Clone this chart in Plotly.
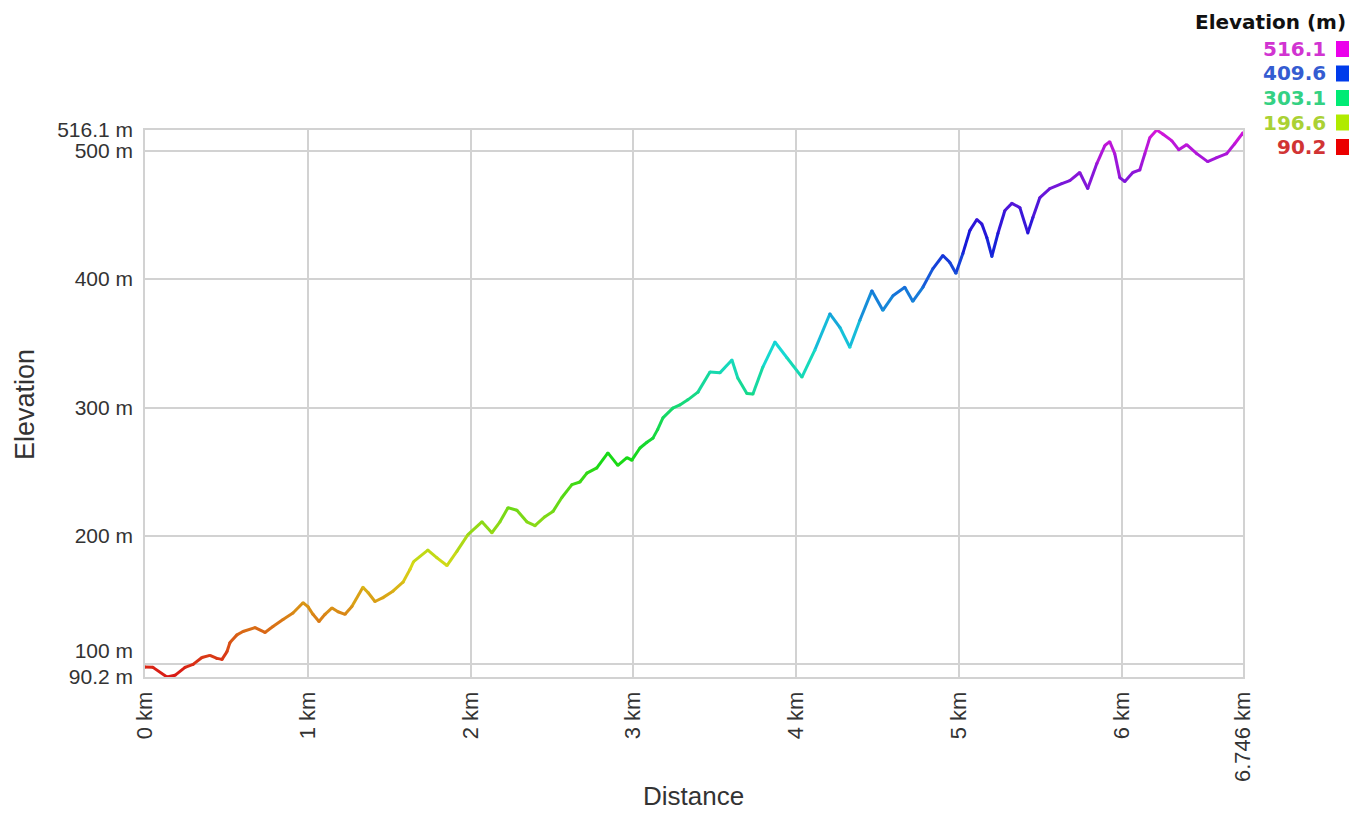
import colorsys
import plotly.graph_objects as go

# ---------------- data ----------------
distance_km = [0.000, 0.049, 0.135, 0.184, 0.246, 0.295, 0.350, 0.399, 0.442, 0.473,
               0.504, 0.522, 0.565, 0.602, 0.676, 0.737, 0.786, 0.848, 0.909, 0.971,
               1.001, 1.032, 1.069, 1.106, 1.149, 1.186, 1.229, 1.271, 1.339, 1.370,
               1.413, 1.462, 1.523, 1.585, 1.628, 1.650, 1.738, 1.794, 1.855, 1.916,
               1.984, 2.070, 2.131, 2.181, 2.230, 2.285, 2.346, 2.396, 2.457, 2.506,
               2.561, 2.623, 2.672, 2.715, 2.776, 2.844, 2.905, 2.961, 2.991, 3.041,
               3.084, 3.120, 3.150, 3.182, 3.243, 3.286, 3.335, 3.397, 3.471, 3.532,
               3.606, 3.642, 3.698, 3.735, 3.796, 3.870, 3.943, 4.036, 4.115, 4.208,
               4.269, 4.330, 4.392, 4.466, 4.533, 4.595, 4.668, 4.717, 4.779, 4.840,
               4.902, 4.945, 4.982, 5.025, 5.068, 5.111, 5.141, 5.172, 5.203, 5.240,
               5.283, 5.326, 5.375, 5.424, 5.455, 5.498, 5.559, 5.633, 5.682, 5.743,
               5.792, 5.848, 5.897, 5.927, 5.958, 5.989, 6.020, 6.069, 6.112, 6.143,
               6.173, 6.216, 6.253, 6.308, 6.351, 6.400, 6.462, 6.529, 6.585, 6.646,
               6.695, 6.746]
elevation_m = [98.0, 97.7, 90.2, 91.5, 97.7, 100.0, 105.4, 107.0, 104.7, 103.9,
               110.0, 117.0, 123.0, 125.6, 128.7, 124.9, 129.5, 135.0, 140.0, 148.0,
               145.0, 139.0, 133.4, 139.0, 144.0, 141.0, 139.0, 145.0, 160.0, 156.0,
               149.0, 152.0, 157.0, 164.0, 174.0, 180.0, 189.0, 183.0, 177.0, 188.0,
               201.0, 211.0, 202.5, 211.0, 222.0, 220.0, 211.0, 208.0, 215.0, 219.0,
               230.0, 240.0, 242.0, 249.0, 253.0, 264.7, 255.0, 261.0, 259.0, 268.5,
               273.0, 276.0, 283.0, 292.0, 299.6, 302.0, 306.0, 312.0, 327.6, 327.0,
               337.0, 323.0, 311.0, 310.5, 331.5, 351.0, 339.0, 323.7, 344.7, 373.0,
               362.5, 347.0, 368.0, 391.0, 375.7, 387.0, 393.6, 382.7, 393.6, 408.0,
               418.4, 413.0, 404.5, 420.0, 438.0, 446.4, 443.0, 432.4, 417.7, 435.5,
               453.4, 459.0, 455.7, 436.0, 448.0, 463.5, 470.5, 474.4, 476.7, 483.0,
               470.5, 490.0, 504.0, 507.0, 497.7, 479.0, 476.0, 483.0, 485.0, 497.7,
               510.0, 516.1, 513.0, 507.8, 500.8, 504.7, 497.7, 491.5, 494.6, 497.7,
               505.4, 514.0]

y_tick_vals = [90.2, 100, 200, 300, 400, 500, 516.1]
y_tick_text = ["90.2 m", "100 m<br> ", "200 m", "300 m", "400 m", "500 m", "516.1 m"]
x_tick_vals = [0, 1, 2, 3, 4, 5, 6, 6.746]
x_tick_text = ["0 km", "1 km", "2 km", "3 km", "4 km", "5 km", "6 km", "6.746 km"]

legend_title = "Elevation (m)"
legend_values = [516.1, 409.6, 303.1, 196.6, 90.2]
legend_labels = ["516.1", "409.6", "303.1", "196.6", "90.2"]

x_title = "Distance"
y_title = "Elevation"

# ---------------- layout constants ----------------
OFF = 8  # default page body margin
W, H = 1357 - 2 * OFF, 820 - 2 * OFF
L, R, T, B = 145 - OFF, 1243 - OFF, 130 - OFF, 677 - OFF
FONT = "Liberation Sans, Arial, sans-serif"
GRID = "#d2d2d2"

EMIN, EMAX = min(elevation_m), max(elevation_m)


def elev_color(e, s=0.9, v=0.85):
    f = (e - EMIN) / (EMAX - EMIN)
    f = max(0.0, min(1.0, f))
    r, g, b = colorsys.hsv_to_rgb(f * 300 / 360, s, v)
    return "rgb(%d,%d,%d)" % (round(r * 255), round(g * 255), round(b * 255))


def px(xs):
    # screen x pixel -> paper coordinate
    return (xs - OFF - L) / (R - L)


def py(ys):
    # screen y pixel -> paper coordinate
    return (B - (ys - OFF)) / (B - T)


fig = go.Figure()

# colored line: segments grouped by color bin
nb = 150
groups = {}
for i in range(len(distance_km) - 1):
    mid = (elevation_m[i] + elevation_m[i + 1]) / 2
    b = min(nb - 1, int((mid - EMIN) / (EMAX - EMIN) * nb))
    gx, gy = groups.setdefault(b, ([], []))
    gx += [distance_km[i], distance_km[i + 1], None]
    gy += [elevation_m[i], elevation_m[i + 1], None]

for b in sorted(groups):
    gx, gy = groups[b]
    col = elev_color(EMIN + (b + 0.5) / nb * (EMAX - EMIN))
    fig.add_trace(go.Scatter(x=gx, y=gy, mode="lines",
                             line=dict(color=col, width=3),
                             showlegend=False, hoverinfo="skip"))

# joint markers to smooth corners
fig.add_trace(go.Scatter(x=distance_km, y=elevation_m, mode="markers",
                         marker=dict(size=3, color=[elev_color(e) for e in elevation_m],
                                     line=dict(width=0)),
                         showlegend=False,
                         hovertemplate="%{x:.3f} km<br>%{y:.1f} m<extra></extra>"))

annotations = [
    dict(text=y_title, x=px(25), y=py(405), xref="paper", yref="paper",
         showarrow=False, textangle=-90, font=dict(family=FONT, size=27, color="#333333"),
         xanchor="center", yanchor="middle"),
    dict(text=x_title, x=px(693), y=py(796), xref="paper", yref="paper",
         showarrow=False, font=dict(family=FONT, size=26, color="#333333"),
         xanchor="center", yanchor="middle", borderpad=0),
    dict(text="<b>%s</b>" % legend_title, x=px(1348), y=py(22), xref="paper", yref="paper",
         showarrow=False, font=dict(family="DejaVu Sans", size=20, color="#111111"),
         xanchor="right", yanchor="middle"),
]
shapes = []
row_y = [49, 73.5, 98, 122.5, 147]
for val, lab, yc in zip(legend_values, legend_labels, row_y):
    annotations.append(dict(text="<b>%s</b>" % lab, x=px(1328), y=py(yc), xref="paper",
                            yref="paper", showarrow=False,
                            font=dict(family="DejaVu Sans", size=20,
                                      color=elev_color(val, s=0.75, v=0.82)),
                            xanchor="right", yanchor="middle"))
    shapes.append(dict(type="rect", xref="paper", yref="paper",
                       x0=px(1336), x1=px(1352), y0=py(yc + 8), y1=py(yc - 8),
                       fillcolor=elev_color(val, s=1.0, v=0.92), line=dict(width=0)))

fig.update_layout(
    width=W, height=H,
    margin=dict(l=L, r=W - R, t=T, b=H - B, pad=0),
    paper_bgcolor="white", plot_bgcolor="white",
    font=dict(family=FONT, size=21, color="#333333"),
    showlegend=False,
    annotations=annotations,
    shapes=shapes,
    xaxis=dict(range=[0, 6.746], tickmode="array", tickvals=x_tick_vals,
               ticktext=x_tick_text, tickangle=-90, showgrid=True, gridcolor=GRID,
               gridwidth=1.5, zeroline=False, showline=True, mirror=True,
               linecolor=GRID, linewidth=1.5, ticks="", ticklabelstandoff=4,
               tickfont=dict(family=FONT, size=22, color="#333333")),
    yaxis=dict(range=[90.2, 516.1], tickmode="array", tickvals=y_tick_vals,
               ticktext=y_tick_text, showgrid=True, gridcolor=GRID, gridwidth=1.5,
               zeroline=False, showline=True, mirror=True, linecolor=GRID,
               linewidth=1.5, ticks="", ticklabelstandoff=6,
               tickfont=dict(family=FONT, size=21, color="#333333")),
)

fig.write_html("out.html")
